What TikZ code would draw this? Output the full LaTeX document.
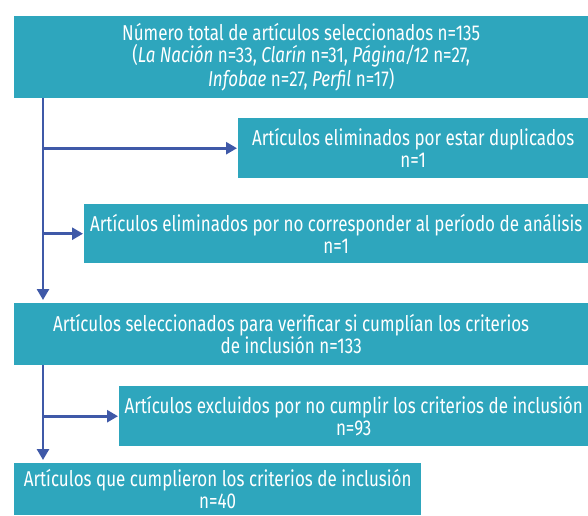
\documentclass[tikz,border=0pt]{standalone}
\usepackage{fontspec}
\setmainfont{Fira Sans}[FakeStretch=0.79]
\usetikzlibrary{arrows.meta}

\definecolor{cajas}{RGB}{46,166,189}
\definecolor{flecha}{RGB}{63,89,168}

\tikzset{
  caja/.style={rectangle, fill=cajas, text=white, align=center, anchor=north west,
    inner sep=0pt, font=\fontsize{21.5}{22}\selectfont},
  flujo/.style={draw=flecha, line width=2.6pt, -{Triangle[length=11pt,width=12pt]}}
}

\begin{document}
\begin{tikzpicture}[x=1pt,y=-1pt]
\useasboundingbox (0,0) rectangle (588,515);

\coordinate (eje) at (43,0);

\node[caja, minimum width=574pt, minimum height=82pt] (total) at (14,16)
  {Número total de artículos seleccionados n=135\\
   (\textit{La Nación} n=33, \textit{Clarín} n=31, \textit{Página/12} n=27,\\
   \textit{Infobae} n=27, \textit{Perfil} n=17)};

\node[caja, minimum width=350pt, minimum height=60pt] (duplicados) at (238,118)
  {Artículos eliminados por estar duplicados\\ n=1};

\node[caja, minimum width=504pt, minimum height=59pt] (periodo) at (84,204)
  {Artículos eliminados por no corresponder al período de análisis\\ n=1};

\node[caja, minimum width=574pt, minimum height=62pt] (seleccion) at (14,303)
  {Artículos seleccionados para verificar si cumplían los criterios\hspace*{20pt}\\ de inclusión n=133\hspace*{20pt}};

\node[caja, minimum width=469pt, minimum height=60pt] (excluidos) at (119,386)
  {Artículos excluidos por no cumplir los criterios de inclusión\\ n=93};

\node[caja, minimum width=407pt, minimum height=52pt] (cumplen) at (14,463)
  {Artículos que cumplieron los criterios de inclusión\\ n=40};

% flechas
\draw[flujo, shorten >=3pt] (total.south -| eje) -- (seleccion.north -| eje);
\draw[flujo, shorten >=1pt] (duplicados.west -| eje) -- (duplicados.west);
\draw[flujo, shorten >=1pt] (periodo.west -| eje) -- (periodo.west);
\draw[flujo, shorten >=3pt] (seleccion.south -| eje) -- (cumplen.north -| eje);
\draw[flujo, shorten >=1pt] (excluidos.west -| eje) -- (excluidos.west);

\end{tikzpicture}
\end{document}
